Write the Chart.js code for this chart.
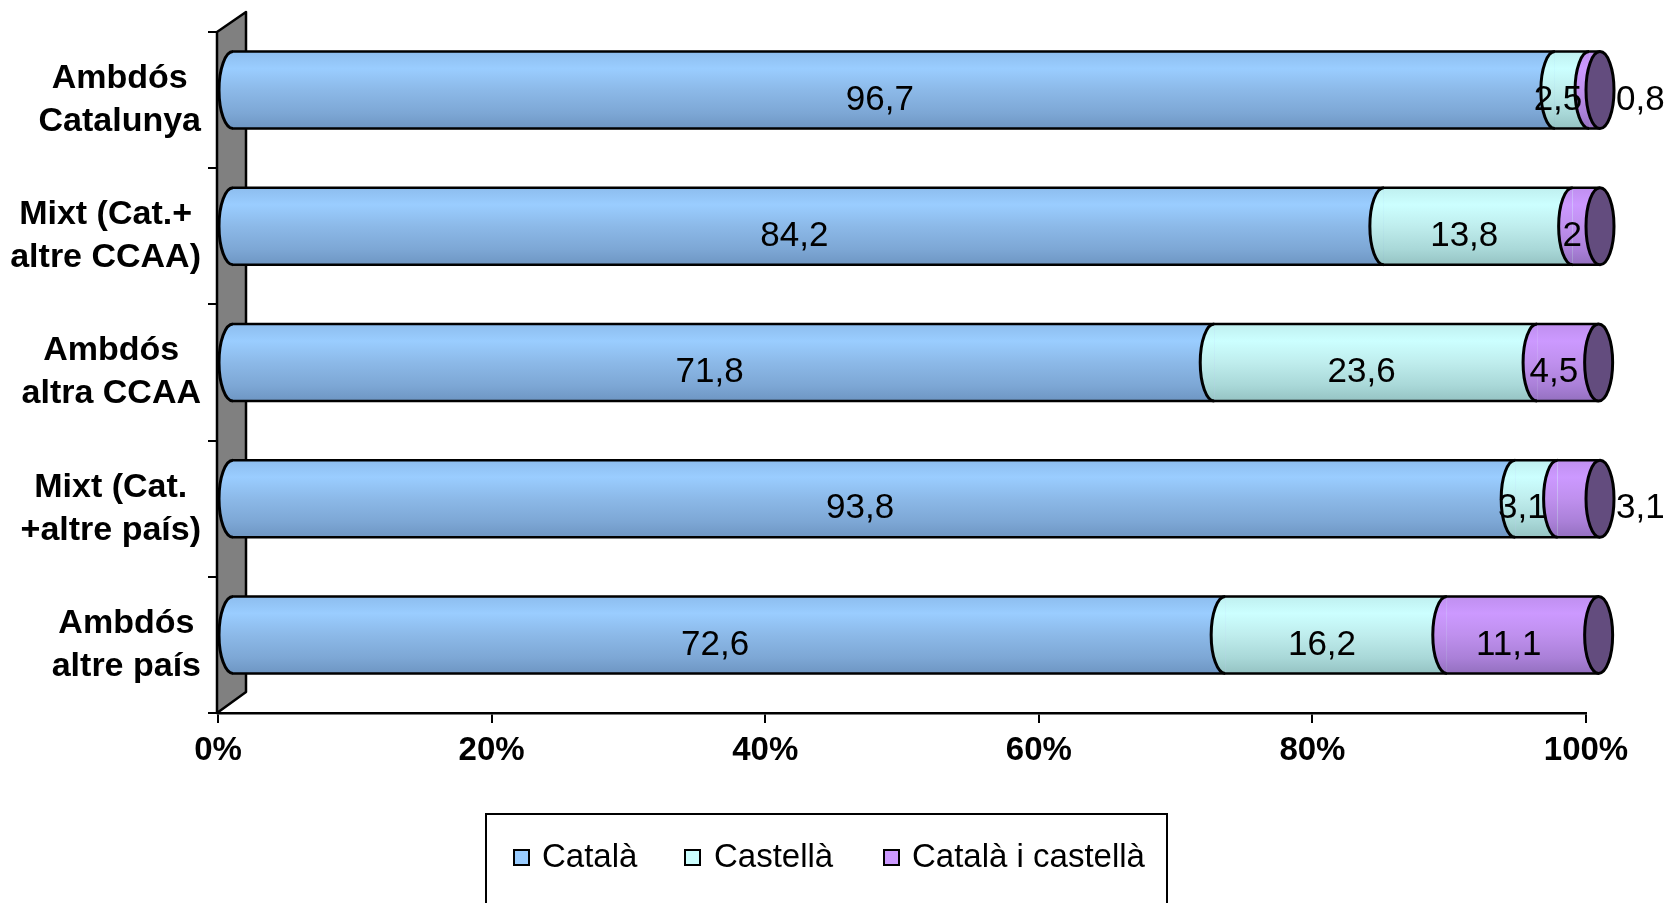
<!DOCTYPE html>
<html><head><meta charset="utf-8">
<script src="https://cdn.jsdelivr.net/npm/chart.js@4.4.0/dist/chart.umd.min.js"></script>
<style>html,body{margin:0;padding:0;background:#fff;overflow:hidden}#wrap{width:1666px;height:903px;position:relative}</style>
</head><body><div id="wrap"><canvas id="c" width="1666" height="903"></canvas></div>
<script>
// ---- data ----
const categories = [["Ambdós","Catalunya"],["Mixt (Cat.+","altre CCAA)"],["Ambdós","altra CCAA"],["Mixt (Cat.","+altre país)"],["Ambdós","altre país"]];
const seriesNames = ["Català","Castellà","Català i castellà"];
const catala = [96.7, 84.2, 71.8, 93.8, 72.6];
const castella = [2.5, 13.8, 23.6, 3.1, 16.2];
const catalaICastella = [0.8, 2, 4.5, 3.1, 11.1];
const xTickValues = [0, 20, 40, 60, 80, 100];

// ---- style ----
const FONT = "'Liberation Sans', Arial, sans-serif";
const BAR_PCT = 0.565;
const DX = 14, DY = -10, RX = 14;
const solid = ["#99CCFF", "#CCFFFF", "#CC99FF"];
const stopsList = [
  [[0,"#8DBDEE"],[0.22,"#9ACDFF"],[0.5,"#8CB9E8"],[0.8,"#7DA7D5"],[1,"#6E96C3"]],
  [[0,"#BFEFEF"],[0.22,"#CCFFFF"],[0.5,"#BFEDED"],[0.8,"#A9D8D8"],[1,"#95C3C3"]],
  [[0,"#BF8FEF"],[0.22,"#CC99FF"],[0.5,"#BF90EE"],[0.8,"#AA80D8"],[1,"#9470C0"]]
];
const capColor = "#634C7E";

function makeGrad(ctx, top, bottom, stops){
  const g = ctx.createLinearGradient(0, top, 0, bottom);
  stops.forEach(s => g.addColorStop(s[0], s[1]));
  return g;
}
function barBg(di){
  return function(c){
    const chart = c.chart, y = chart.scales && chart.scales.y;
    if (!y || c.dataIndex === undefined || !y.height) return solid[di];
    const cy = y.getPixelForValue(c.dataIndex);
    const h = y.height / categories.length * BAR_PCT;
    return makeGrad(chart.ctx, cy - h/2, cy + h/2, stopsList[di]);
  };
}
const fmt = v => String(v).replace('.', ',');

const deco = {
  id: 'deco',
  beforeDatasetsDraw(chart){
    const ctx = chart.ctx, a = chart.chartArea;
    // 3D wall
    ctx.save();
    ctx.beginPath();
    ctx.moveTo(a.left - 1, a.top);
    ctx.lineTo(a.left + 28, a.top - 20);
    ctx.lineTo(a.left + 28, a.bottom - 21);
    ctx.lineTo(a.left - 1, a.bottom);
    ctx.closePath();
    ctx.fillStyle = "#808080"; ctx.fill();
    ctx.lineWidth = 2.5; ctx.strokeStyle = "#000"; ctx.lineJoin = 'round'; ctx.stroke();
    ctx.restore();
    ctx.save();
    ctx.translate(DX, DY);
  },
  afterDatasetsDraw(chart){
    const ctx = chart.ctx;
    const n = chart.data.labels.length, nd = chart.data.datasets.length;
    for (let i = 0; i < n; i++) {
      const els = [];
      for (let d = 0; d < nd; d++) els.push(chart.getDatasetMeta(d).data[i]);
      const first = els[0], last = els[nd-1];
      const cy = first.y, ry = first.height / 2, top = cy - ry, bot = cy + ry;
      // left bulges
      els.forEach((el, d) => {
        ctx.beginPath();
        ctx.ellipse(el.base, cy, RX, ry, 0, Math.PI/2, Math.PI*1.5);
        ctx.closePath();
        ctx.fillStyle = makeGrad(ctx, top, bot, stopsList[d]);
        ctx.fill();
        ctx.beginPath();
        ctx.ellipse(el.base, cy, RX, ry, 0, Math.PI/2, Math.PI*1.5);
        ctx.lineWidth = 3; ctx.strokeStyle = "#000"; ctx.stroke();
      });
      // top/bottom lines
      ctx.beginPath();
      ctx.moveTo(first.base, top); ctx.lineTo(last.x, top);
      ctx.moveTo(first.base, bot); ctx.lineTo(last.x, bot);
      ctx.lineWidth = 2.5; ctx.strokeStyle = "#000"; ctx.stroke();
      // end cap
      ctx.beginPath();
      ctx.ellipse(last.x, cy, RX, ry, 0, 0, Math.PI*2);
      ctx.fillStyle = capColor; ctx.fill();
      ctx.lineWidth = 3; ctx.stroke();
    }
    ctx.restore();
    // value labels (untranslated)
    ctx.save();
    ctx.font = "35px " + FONT;
    ctx.fillStyle = "#000";
    ctx.textBaseline = 'middle';
    for (let i = 0; i < n; i++) {
      let prevRight = -1e9;
      for (let d = 0; d < nd; d++) {
        const el = chart.getDatasetMeta(d).data[i];
        const txt = fmt(chart.data.datasets[d].data[i]);
        const w = ctx.measureText(txt).width;
        let cx = (el.base + el.x) / 2;
        if (cx - w/2 < prevRight - 4) {
          const capRight = chart.getDatasetMeta(nd-1).data[i].x + DX + RX;
          cx = capRight + 2 + w/2;
        }
        ctx.textAlign = 'center';
        ctx.fillText(txt, cx, el.y);
        prevRight = cx + w/2;
      }
    }
    ctx.restore();
  },
  afterDraw(chart){
    const ctx = chart.ctx, y = chart.scales.y;
    // category labels: block right-aligned, lines centred in block
    ctx.save();
    ctx.font = "bold 34px " + FONT;
    ctx.fillStyle = "#000";
    ctx.textBaseline = 'middle';
    ctx.textAlign = 'center';
    const rightEdge = 201, lh = 43;
    chart.data.labels.forEach((lines, i) => {
      const cy = y.getPixelForValue(i);
      const bw = Math.max(...lines.map(l => ctx.measureText(l).width));
      const cx = rightEdge - bw/2;
      lines.forEach((l, k) => ctx.fillText(l, cx, cy + (k - (lines.length-1)/2) * lh));
    });
    ctx.restore();
    // legend
    ctx.save();
    ctx.lineWidth = 2; ctx.strokeStyle = "#000";
    ctx.strokeRect(486, 814, 681, 100);
    ctx.font = "33px " + FONT;
    ctx.textBaseline = 'middle'; ctx.textAlign = 'left';
    const bx = [514, 685, 884], tx = [542, 714, 912], ly = 858;
    chart.data.datasets.forEach((ds, d) => {
      ctx.fillStyle = solid[d];
      ctx.fillRect(bx[d], ly - 8, 15, 15);
      ctx.strokeRect(bx[d], ly - 8, 15, 15);
      ctx.fillStyle = "#000";
      ctx.fillText(ds.label, tx[d], ly);
    });
    ctx.restore();
  }
};

new Chart(document.getElementById('c'), {
  type: 'bar',
  data: {
    labels: categories,
    datasets: [
      { label: seriesNames[0], data: catala, backgroundColor: barBg(0) },
      { label: seriesNames[1], data: castella, backgroundColor: barBg(1) },
      { label: seriesNames[2], data: catalaICastella, backgroundColor: barBg(2) }
    ]
  },
  options: {
    indexAxis: 'y',
    responsive: false,
    animation: false,
    devicePixelRatio: 1,
    borderWidth: 0,
    barPercentage: BAR_PCT,
    categoryPercentage: 1,
    layout: { padding: { left: 0, top: 32, right: 80, bottom: 0 } },
    plugins: { legend: { display: false }, tooltip: { enabled: false } },
    scales: {
      x: {
        stacked: true, min: 0, max: 100,
        afterBuildTicks: s => { s.ticks = xTickValues.map(v => ({ value: v })); },
        afterFit: s => { s.height = 190; },
        border: { color: '#000', width: 2.5 },
        grid: { drawOnChartArea: false, drawTicks: true, tickLength: 10, color: '#000', lineWidth: 2 },
        ticks: { padding: 8, color: '#000', font: { family: FONT, size: 33, weight: 'bold' }, callback: v => v + '%', maxRotation: 0 }
      },
      y: {
        stacked: true,
        afterFit: s => { s.width = 218; },
        border: { color: '#000', width: 2 },
        grid: { offset: true, drawOnChartArea: false, drawTicks: true, tickLength: 10, color: '#000', lineWidth: 2 },
        ticks: { display: false }
      }
    }
  },
  plugins: [deco]
});
</script></body></html>
